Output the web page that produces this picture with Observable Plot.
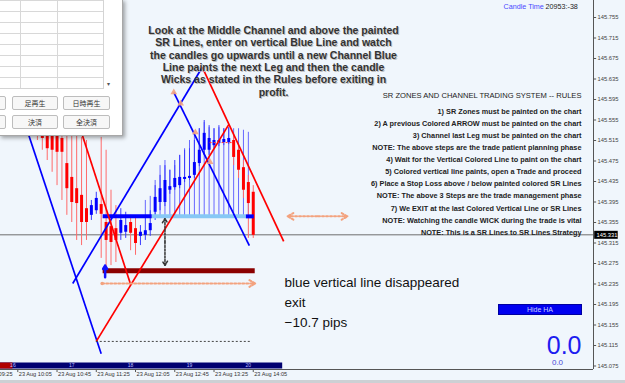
<!DOCTYPE html>
<html><head><meta charset="utf-8">
<script src="https://cdn.jsdelivr.net/npm/d3@7"></script>
<script src="https://cdn.jsdelivr.net/npm/@observablehq/plot@0.6"></script>
<style>
html,body{margin:0;padding:0;background:#f0f6fc;overflow:hidden;}
#wrap{position:relative;width:625px;height:383px;overflow:hidden;}
#chart{position:absolute;left:0;top:0;}
#dlg{position:absolute;left:-1px;top:-1px;width:122px;height:135px;background:#fff;border:1px solid #a8a8a8;box-shadow:2px 2px 4px rgba(0,0,0,.35);}
#grid{position:absolute;left:0;top:0;width:103px;height:88px;border-right:1px solid #d4d4d4;border-bottom:1px solid #d4d4d4;
 background-image:linear-gradient(#d8d8d8 1px, transparent 1px);background-size:100% 11px;background-position:0 0;}
.vl{position:absolute;top:0;width:1px;height:88px;background:#d8d8d8;}
.btn{position:absolute;height:12px;border:1px solid #bdbdbd;border-radius:2px;background:#f7f7f7;font:7px "Noto Sans CJK JP",sans-serif;color:#333;text-align:center;line-height:12px;}
#hide{position:absolute;left:498px;top:304px;width:82px;height:9px;background:#0000f0;border:1px solid #0000a0;color:#c8d0ff;font:7px "Liberation Sans",sans-serif;text-align:center;line-height:9px;}
#bot{position:absolute;left:0;top:380px;width:625px;height:3px;background:#cdd0d4;}
</style></head><body>
<div id="wrap">
<div id="chart"></div>
<div id="dlg">
  <div id="grid"><div class="vl" style="left:20px"></div><div class="vl" style="left:57px"></div></div>
  <div style="position:absolute;left:107px;top:80px;font:6px sans-serif;color:#555">▾</div>
  <div class="btn" style="left:-40px;top:96px;width:44px"></div>
  <div class="btn" style="left:12px;top:96px;width:44px">足再生</div>
  <div class="btn" style="left:63px;top:96px;width:45px">日時再生</div>
  <div class="btn" style="left:-40px;top:115px;width:44px"></div>
  <div class="btn" style="left:12px;top:115px;width:44px">決済</div>
  <div class="btn" style="left:63px;top:115px;width:45px">全決済</div>
</div>
<div id="hide">Hide HA</div>
<div id="bot"></div>
</div>
<script>
const T = s => new Date(`2023-08-23T${s.length === 5 ? s + ":00" : s}Z`);

// Heikin-Ashi candles (5 min)
const barTimes = ["10:25","10:30","10:35","10:40","10:45","10:50","10:55","11:00","11:05","11:10","11:15","11:20","11:25","11:30","11:35","11:40","11:45","11:50","11:55","12:00","12:05","12:10","12:15","12:20","12:25","12:30","12:35","12:40","12:45","12:50","12:55","13:00","13:05","13:10","13:15","13:20","13:25","13:30","13:35","13:40","13:45","13:50","13:55","14:00","14:05"];
const haOpen = [145.558,145.550,145.538,145.535,145.527,145.519,145.470,145.443,145.421,145.408,145.382,145.369,145.378,145.390,145.355,145.347,145.343,145.334,145.336,145.355,145.343,145.328,145.330,145.339,145.375,145.394,145.394,145.418,145.423,145.427,145.439,145.441,145.447,145.470,145.496,145.496,145.505,145.509,145.511,145.511,145.515,145.496,145.462,145.433,145.414];
const haClose = [145.531,145.519,145.499,145.496,145.492,145.492,145.421,145.394,145.392,145.355,145.355,145.388,145.402,145.371,145.320,145.316,145.320,145.359,145.349,145.334,145.314,145.336,145.339,145.353,145.404,145.421,145.437,145.425,145.441,145.443,145.443,145.445,145.472,145.496,145.529,145.519,145.515,145.515,145.517,145.519,145.482,145.457,145.418,145.392,145.330];
const haHigh = [145.603,145.593,145.583,145.574,145.564,145.554,145.544,145.538,145.525,145.521,145.515,145.398,145.414,145.521,145.496,145.418,145.388,145.382,145.375,145.369,145.363,145.349,145.363,145.378,145.427,145.447,145.466,145.457,145.476,145.486,145.496,145.499,145.515,145.538,145.554,145.544,145.538,145.544,145.538,145.540,145.525,145.505,145.476,145.447,145.427];
const haLow = [145.515,145.496,145.476,145.453,145.427,145.398,145.369,145.355,145.320,145.310,145.320,145.359,145.371,145.285,145.269,145.271,145.277,145.320,145.324,145.300,145.291,145.310,145.320,145.328,145.359,145.378,145.386,145.410,145.418,145.421,145.433,145.437,145.441,145.464,145.486,145.486,145.499,145.503,145.505,145.507,145.466,145.441,145.402,145.324,145.324];

// vertical blue signal lines (from SR line up)
const vlineTimes = ["12:15","12:20","12:25","12:30","12:35","12:40","12:45","12:50","12:55","13:00","13:05","13:10","13:15","13:20","13:25","13:30","13:35","13:40","13:45","13:50","13:55","14:00"];
const vlineTops = [145.398,145.406,145.437,145.466,145.476,145.457,145.466,145.486,145.499,145.515,145.525,145.538,145.550,145.540,145.538,145.540,145.538,145.540,145.538,145.538,145.535,145.531];

// channel legs
const chanKind = ["buy","buy","buy","sell","sell","sell"];
const chanStartTime = ["10:01","11:01","12:44","10:56","11:25","13:13"];
const chanStartPrice = [145.613,145.236,145.609,145.613,145.123,145.658];
const chanEndTime = ["11:30","13:13","14:01","12:00","13:40","14:36"];
const chanEndPrice = [145.099,145.658,145.310,145.234,145.546,145.318];

// SR lines
const srBlue = 145.367, srRed = 145.261;
const srBlueStart = ["11:32","12:22","13:58"], srBlueEnd = ["12:22","13:58","14:06"], srBlueState = ["active","passed","active"];
const srRedStart = "11:32", srRedEnd = "14:07";
const currentPrice = 145.331;
const targetPrice = 145.236, targetStart = "11:31", targetEnd = "14:07";
const wickArrowStart = "14:40", wickArrowEnd = "15:41";
const stopTime = "12:35", stopTop = 145.363, stopBottom = 145.271;
const entryLevel = 145.123, entryStart = "11:25", entryEnd = "14:04";
const entryArrowTime = "11:34", entryArrowFrom = 145.248, entryArrowTo = 145.271;
const markerTimes = ["12:44","12:51","13:06","13:21"], markerPrices = [145.609,145.587,145.531,145.473];
const dashLevel = 145.511, dashStart = "13:21", dashEnd = "13:44";

// session strip
const stripPrice = 145.076, stripStart = "09:47", stripRedEnd = "10:00", stripEnd = "14:35";
const hourTimes = ["10:00","11:00","12:00","13:00","14:00"], hourLabels = ["16","17","18","19","20"];

// axes
const xTickTimes = ["09:25","10:05","10:45","11:25","12:05","12:45","13:25","14:05"];
const yTicks = [145.755,145.715,145.675,145.635,145.595,145.555,145.515,145.475,145.435,145.395,145.355,145.315,145.275,145.235,145.195,145.155,145.115,145.075];

// texts
const noteLines = ["Look at the Middle Channel and above the painted","SR Lines, enter on vertical Blue Line and watch","the candles go upwards until a new Channel Blue","Line paints the next Leg and then the candle","Wicks as stated in the Rules before exiting in","profit."];
const rulesTitle = "SR ZONES AND CHANNEL TRADING SYSTEM -- RULES";
const rulesLines = ["1) SR Zones must be painted on the chart","2) A previous Colored ARROW must be painted on the chart","3) Channel last Leg must be painted on the chart","NOTE: The above steps are the trade patient planning phase","4) Wait for the Vertical Colored Line to paint on the chart","5) Colored vertical line paints, open a Trade and proceed","6) Place a Stop Loss above / below painted colored SR Lines","NOTE: The above 3 Steps are the trade management phase","7) We EXIT at the last Colored Vertical Line or SR Lines","NOTE: Watching the candle WICK during the trade is vital","NOTE: This is a SR Lines to SR Lines Strategy"];
const resultLines = ["blue vertical line disappeared","exit","\u221210.7 pips"];
const pipsBig = "0.0", pipsSmall = "0.0";

const bars = barTimes.map((t,i)=>({t:T(t),o:haOpen[i],c:haClose[i],h:haHigh[i],l:haLow[i],up:haClose[i]>=haOpen[i]}));
const vlines = vlineTimes.map((t,i)=>({t:T(t),top:vlineTops[i]}));
const chans = chanKind.map((k,i)=>({k,x1:T(chanStartTime[i]),y1:chanStartPrice[i],x2:T(chanEndTime[i]),y2:chanEndPrice[i]}));
const srSegs = srBlueStart.map((s,i)=>({x1:T(s),x2:T(srBlueEnd[i]),st:srBlueState[i]}));
const xEnd = T("19:51:48"), yBottom = 145.0682;
const F = "Liberation Sans";

const chart = Plot.plot({
  width: 625, height: 383,
  marginLeft: 0, marginRight: 32, marginTop: 0, marginBottom: 14,
  x: {type: "utc", domain: [T("09:47:22"), xEnd], axis: null},
  y: {domain: [yBottom, 145.7882], axis: null},
  style: {background: "#f0f6fc", fontFamily: F},
  marks: [
    Plot.ruleY([currentPrice], {stroke: "#6e6e6e", strokeWidth: 1}),
    // session strip
    Plot.ruleY([stripPrice], {x1: T(stripStart), x2: T(stripEnd), stroke: "#000070", strokeWidth: 6}),
    Plot.ruleY([stripPrice], {x1: T(stripStart), x2: T(stripRedEnd), stroke: "#b00000", strokeWidth: 6}),
    Plot.text(hourTimes, {x: d=>T(d), y: stripPrice, text: (d,i)=>hourLabels[i], fill: "#b8b8ff", fontSize: 5}),
    // vertical blue lines
    Plot.ruleX(vlines, {x: "t", y1: srBlue, y2: "top", stroke: "#4f4fff", strokeOpacity: 0.85, strokeWidth: 1}),
    // wicks
    Plot.ruleX(bars.filter(d=>!d.up), {x: "t", y1: "l", y2: "h", stroke: "#ff6a6a", strokeWidth: 1}),
    Plot.ruleX(bars.filter(d=>d.up), {x: "t", y1: "l", y2: "h", stroke: "#3a3aff", strokeWidth: 1}),
    // bodies
    Plot.ruleX(bars.filter(d=>!d.up), {x: "t", y1: "o", y2: d=>Math.abs(d.o-d.c)<0.004?d.o-0.004:d.c, stroke: "#ff0000", strokeWidth: 3}),
    Plot.ruleX(bars.filter(d=>d.up), {x: "t", y1: "o", y2: d=>Math.abs(d.o-d.c)<0.004?d.o+0.004:d.c, stroke: "#0000ff", strokeWidth: 3}),
    // SR lines
    Plot.ruleY([srRed], {x1: T(srRedStart), x2: T(srRedEnd), stroke: "#8b0000", strokeWidth: 5}),
    Plot.ruleY(srSegs.filter(d=>d.st==="passed"), {y: srBlue, x1: "x1", x2: "x2", stroke: "#87c8f5", strokeWidth: 4}),
    Plot.ruleY(srSegs.filter(d=>d.st==="active"), {y: srBlue, x1: "x1", x2: "x2", stroke: "#0000ff", strokeWidth: 4}),
    // channels
    Plot.link(chans.filter(d=>d.k==="buy"), {x1:"x1",y1:"y1",x2:"x2",y2:"y2", stroke: "#0000ff", strokeWidth: 1.7}),
    Plot.link(chans.filter(d=>d.k==="sell"), {x1:"x1",y1:"y1",x2:"x2",y2:"y2", stroke: "#ff0000", strokeWidth: 1.7}),
    // entry dotted
    Plot.ruleY([entryLevel], {x1: T(entryStart), x2: T(entryEnd), stroke: "#444", strokeWidth: 1, strokeDasharray: "2,2"}),
    Plot.ruleY([dashLevel], {x1: T(dashStart), x2: T(dashEnd), stroke: "#ff3030", strokeWidth: 1, strokeDasharray: "2,2"}),
    // target arrow
    Plot.arrow([0], {x1: T(targetStart), x2: T(targetEnd), y1: targetPrice, y2: targetPrice, stroke: "#f3a27e", strokeWidth: 2, strokeDasharray: "2,2", headLength: 5}),
    Plot.dot([0], {x: T(targetStart), y: targetPrice, r: 1.8, fill: "#f3a27e"}),
    // wick arrow (double)
    Plot.arrow([0,1], {x1: i=>i? T("15:10"):T("15:11"), x2: i=>i? T(wickArrowStart):T(wickArrowEnd), y1: srBlue, y2: srBlue, stroke: "#f3a27e", strokeWidth: 2, strokeDasharray: "2,2", headLength: 5}),
    // stop arrow (double)
    Plot.arrow([0,1], {x1: T(stopTime), x2: T(stopTime), y1: (stopTop+stopBottom)/2, y2: i=>i?stopTop:stopBottom, stroke: "#333", strokeWidth: 1.5, strokeDasharray: "2,1.5", headLength: 5}),
    // entry up arrow
    Plot.arrow([0], {x1: T(entryArrowTime), x2: T(entryArrowTime), y1: entryArrowFrom, y2: entryArrowTo, stroke: "#1010ff", strokeWidth: 2.5, headLength: 5}),
    // markers
    Plot.dot(markerTimes, {x: d=>T(d), y: (d,i)=>markerPrices[i], r: 2.5, fill: "#f3a27e", fillOpacity: 0.9, symbol: "triangle"}),
    // frame lines
    Plot.ruleY([yBottom], {stroke: "#555"}),
    Plot.ruleX([xEnd], {stroke: "#555"}),
    // x axis
    Plot.ruleX(xTickTimes, {x: d=>T(d), y1: yBottom, y2: yBottom-0.006, stroke: "#555"}),
    Plot.text(xTickTimes, {x: d=>T(d), frameAnchor: "bottom", lineAnchor: "top", textAnchor: "start", dy: 3, dx: 1, text: d=>"23 Aug "+d, fontSize: 5.6, fill: "#333"}),
    // y axis
    Plot.ruleY(yTicks, {x1: xEnd, x2: T("19:55"), stroke: "#555"}),
    Plot.text(yTicks, {y: d=>d, frameAnchor: "right", textAnchor: "start", dx: 4, text: d=>d.toFixed(3), fontSize: 5.8, fill: "#444"}),
    Plot.ruleY([currentPrice], {x1: T("19:53"), x2: T("20:17"), stroke: "#000", strokeWidth: 8}),
    Plot.text([currentPrice], {y: d=>d, frameAnchor: "right", textAnchor: "start", dx: 3, text: d=>d.toFixed(3), fontSize: 5.8, fill: "#fff"}),
    // annotations
    Plot.text([noteLines.join("\n")], {frameAnchor: "top-left", textAnchor: "middle", lineAnchor: "top", dx: 274, dy: 25.6, fontSize: 10.5, fontWeight: "bold", lineHeight: 1.18, fill: "#bdbdbd"}),
    Plot.text([noteLines.join("\n")], {frameAnchor: "top-left", textAnchor: "middle", lineAnchor: "top", dx: 273, dy: 24.6, fontSize: 10.5, fontWeight: "bold", lineHeight: 1.18, fill: "#333"}),
    Plot.text([rulesTitle], {frameAnchor: "top-left", textAnchor: "end", lineAnchor: "top", dx: 581, dy: 92, fontSize: 7.6, fill: "#222"}),
    Plot.text([rulesLines.join("\n")], {frameAnchor: "top-left", textAnchor: "end", lineAnchor: "top", dx: 581, dy: 104.5, fontSize: 7.3, fontWeight: "bold", lineHeight: 1.66, fill: "#222"}),
    Plot.text([resultLines.join("\n")], {frameAnchor: "top-left", textAnchor: "start", lineAnchor: "top", dx: 284, dy: 272.3, fontSize: 13.5, lineHeight: 1.48, fill: "#111"}),
    Plot.text(["Candle Time"], {frameAnchor: "top-left", textAnchor: "start", lineAnchor: "top", dx: 503, dy: 3.8, fontSize: 7.2, fill: "#4a4aff"}),
    Plot.text(["20953:-38"], {frameAnchor: "top-left", textAnchor: "start", lineAnchor: "top", dx: 545, dy: 3.8, fontSize: 7.2, fill: "#222"}),
    Plot.text([pipsBig], {frameAnchor: "top-left", textAnchor: "end", lineAnchor: "top", dx: 581, dy: 335.3, fontSize: 25, fill: "#1c1cf0"}),
    Plot.text([pipsSmall], {frameAnchor: "top-left", textAnchor: "middle", lineAnchor: "top", dx: 557, dy: 359.3, fontSize: 8, fill: "#4848d8"})
  ]
});
document.getElementById("chart").appendChild(chart);
</script>
</body></html>
